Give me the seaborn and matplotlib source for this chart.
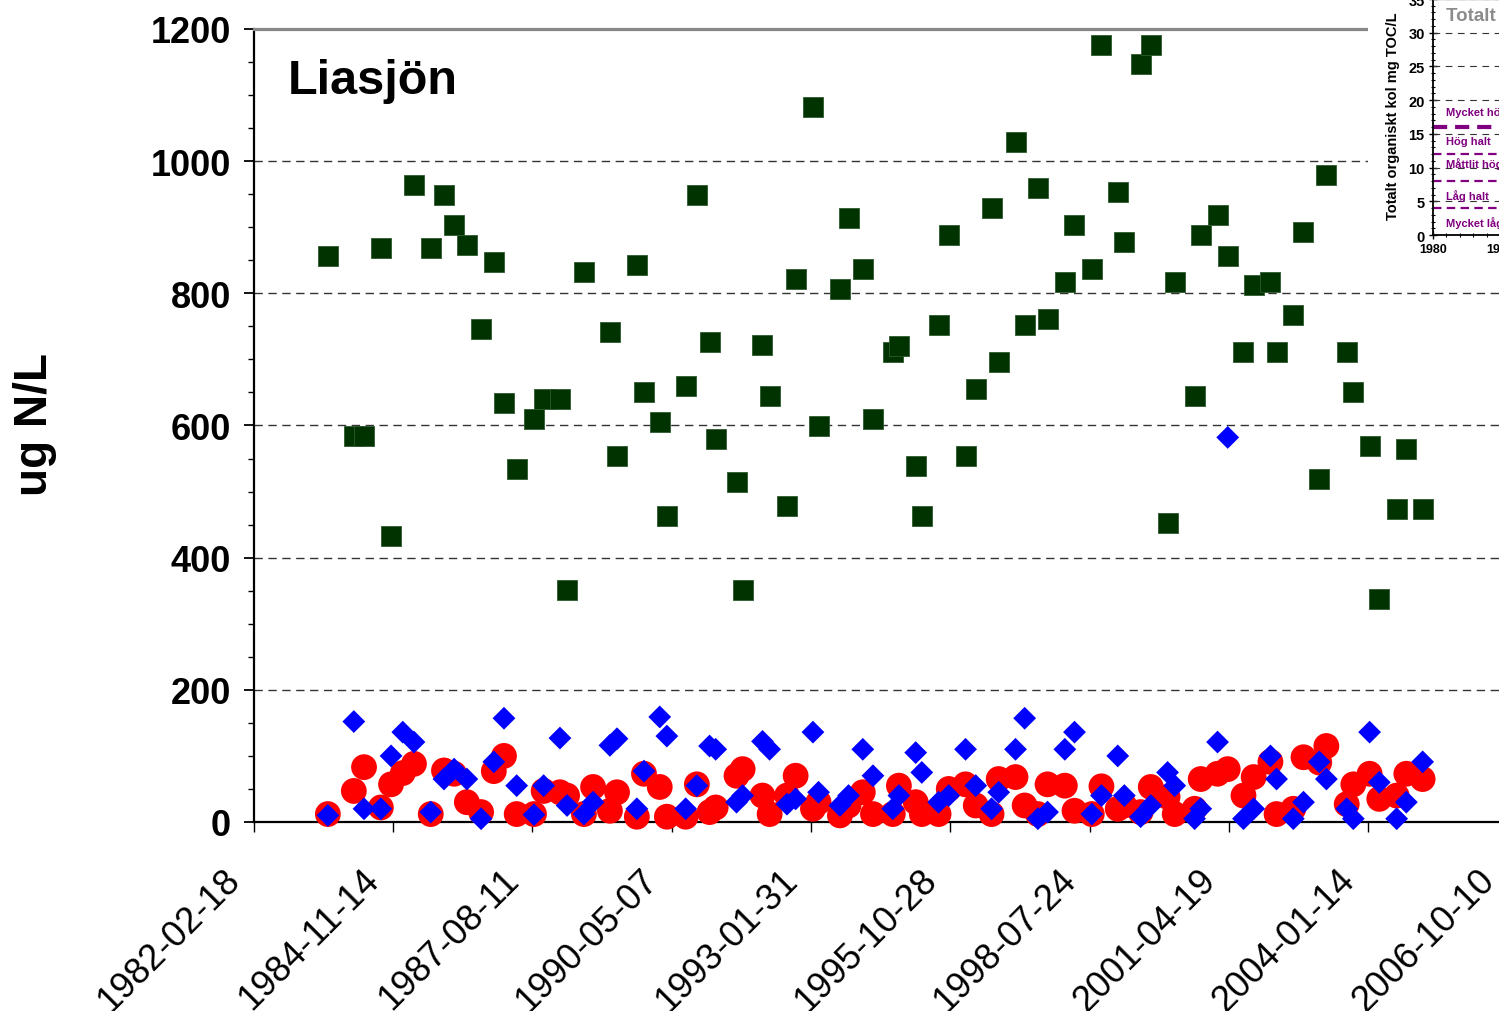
import numpy as np
import pandas as pd
import matplotlib
matplotlib.use("Agg")
import matplotlib.pyplot as plt
import matplotlib.transforms as mtransforms
from matplotlib.patches import Rectangle
from matplotlib.ticker import MultipleLocator
import seaborn as sns

# ---------------- data ----------------
# sampling dates as decimal years
sample_years = [
    1983.59, 1984.10, 1984.30, 1984.63, 1984.83, 1985.06, 1985.28, 1985.61, 1985.87, 1986.07,
    1986.32, 1986.60, 1986.85, 1987.05, 1987.30, 1987.64, 1987.83, 1988.15, 1988.29, 1988.62,
    1988.80, 1989.13, 1989.27, 1989.66, 1989.80, 1990.11, 1990.25, 1990.62, 1990.84, 1991.09,
    1991.21, 1991.62, 1991.74, 1992.13, 1992.27, 1992.61, 1992.78, 1993.12, 1993.23, 1993.65,
    1993.82, 1994.10, 1994.30, 1994.69, 1994.81, 1995.14, 1995.26, 1995.59, 1995.79, 1996.12,
    1996.32, 1996.63, 1996.77, 1997.10, 1997.28, 1997.54, 1997.73, 1998.07, 1998.26, 1998.60,
    1998.79, 1999.11, 1999.24, 1999.56, 1999.76, 2000.09, 2000.23, 2000.62, 2000.74, 2001.07,
    2001.27, 2001.58, 2001.78, 2002.11, 2002.23, 2002.56, 2002.76, 2003.07, 2003.21, 2003.61,
    2003.74, 2004.06, 2004.25, 2004.59, 2004.78, 2005.10,
]
nan = np.nan
# total nitrogen (dark green squares)
tot_n = [
    857, 584, 584, 868, 433, nan, 964, 868, 949, 903,
    873, 746, 847, 634, 534, 610, 640, 640, 351, 832,
    nan, 741, 554, 843, 651, 605, 463, 660, 949, 726,
    580, 514, 351, 722, 645, 478, 822, 1082, 599, 806,
    914, 837, 610, 711, 720, 539, 463, 752, 888, 554,
    655, 929, 696, 1029, 752, 959, 761, 817, 903, 837,
    1176, 953, 878, 1147, 1176, 452, 817, 645, 888, 918,
    857, 711, 812, 817, 711, 767, 893, 519, 979, 711,
    651, 569, 337, 474, 564, 474,
]
# nitrate nitrogen (red circles)
no3_n = [
    12, 47, 83, 22, 57, 74, 88, 12, 78, 73,
    30, 15, 77, 100, 12, 12, 47, 45, 40, 12,
    53, 17, 45, 8, 73, 53, 8, 8, 57, 15,
    22, 70, 80, 40, 12, 40, 70, 20, 30, 10,
    25, 45, 12, 12, 55, 30, 12, 12, 50, 57,
    25, 12, 65, 68, 25, 12, 57, 55, 17, 12,
    54, 20, 25, 15, 53, 38, 12, 20, 65, 73,
    80, 40, 68, 91, 12, 20, 98, 90, 115, 27,
    57, 73, 35, 40, 73, 65,
]
# ammonium nitrogen (blue diamonds)
nh4_n = [
    10, 152, 20, 20, 100, 136, 121, 15, 65, 80,
    65, 5, 91, 157, 55, 11, 55, 127, 25, 12,
    30, 116, 126, 20, 77, 159, 130, 20, 55, 115,
    110, 30, 40, 122, 110, 27, 35, 136, 45, 25,
    40, 110, 70, 20, 40, 105, 75, 30, 40, 110,
    55, 20, 45, 110, 157, 5, 15, 110, 136, 12,
    40, 100, 40, 8, 25, 75, 55, 5, 20, 121,
    582, 5, 20, 100, 65, 5, 30, 91, 65, 20,
    5, 136, 60, 5, 30, 91,
]

x_tick_labels = ["1982-02-18", "1984-11-14", "1987-08-11", "1990-05-07", "1993-01-31",
                 "1995-10-28", "1998-07-24", "2001-04-19", "2004-01-14", "2006-10-10"]
y_ticks = [0, 200, 400, 600, 800, 1000, 1200]

# inset (TOC classification chart)
inset_y_ticks = [0, 5, 10, 15, 20, 25, 30, 35]
inset_x_ticks = [1980, 1985, 1990, 1995, 2000, 2005, 2010]
class_limits = [4, 8, 12, 16]
class_labels = ["Mycket låg halt", "Låg halt", "Måttlit hög halt", "Hög halt", "Mycket hög halt"]
class_label_y = [1.9, 5.9, 10.6, 13.9, 18.3]

title = "Liasjön"
y_label = "ug N/L"
inset_y_label = "Totalt organiskt kol mg TOC/L"
inset_title = "Totalt organiskt kol"


def dec_year_to_ts(y):
    yr = int(np.floor(y))
    start = pd.Timestamp(year=yr, month=1, day=1)
    end = pd.Timestamp(year=yr + 1, month=1, day=1)
    return start + (end - start) * (y - yr)


sns.set_theme(style="white")
plt.rcParams["font.family"] = ["Liberation Sans", "DejaVu Sans"]
plt.rcParams["text.color"] = "black"
plt.rcParams["xtick.color"] = "black"
plt.rcParams["ytick.color"] = "black"

df = pd.DataFrame({
    "date": [dec_year_to_ts(v) for v in sample_years],
    "tot_n": tot_n,
    "no3_n": no3_n,
    "nh4_n": nh4_n,
})

W, H = 1499, 1012
fig = plt.figure(figsize=(W / 100, H / 100), dpi=100)
fig.patch.set_facecolor("white")

ax = fig.add_axes([253.7 / W, (H - 823) / H, 1254 / W, 793 / H])
ax.set_zorder(0)
ax.set_facecolor("white")

# dashed horizontal grid lines
for yv in y_ticks[1:-1]:
    ax.axhline(yv, color="#333333", lw=1.0, ls=(0, (6, 4)), zorder=0.5)

sns.scatterplot(data=df, x="date", y="tot_n", marker="s", s=205, color="#003300",
                edgecolor="#2f5a2f", linewidth=0.6, ax=ax, legend=False, clip_on=False, zorder=3)
sns.scatterplot(data=df, x="date", y="no3_n", marker="o", s=345, color="#ff0000",
                edgecolor="none", linewidth=0, ax=ax, legend=False, clip_on=False, zorder=4)
sns.scatterplot(data=df, x="date", y="nh4_n", marker="D", s=135, color="#0000ff",
                edgecolor="none", linewidth=0, ax=ax, legend=False, clip_on=False, zorder=5)

tick_dates = [pd.Timestamp(t) for t in x_tick_labels]
ax.set_xlim(tick_dates[0], tick_dates[-1])
ax.set_ylim(y_ticks[0], y_ticks[-1])
ax.set_xlabel("")
ax.set_ylabel("")

ax.set_yticks(y_ticks)
ax.set_yticklabels([str(v) for v in y_ticks], fontsize=26, fontweight="bold", color="black")
ax.yaxis.set_minor_locator(MultipleLocator(50))
ax.set_xticks(tick_dates)
ax.set_xticklabels(x_tick_labels, fontsize=26, rotation=45, ha="right", va="center",
                   rotation_mode="anchor", color="black")

ax.tick_params(axis="y", which="major", direction="out", length=7.5, width=1.3,
               color="black", pad=9, left=True, labelcolor="black")
ax.tick_params(axis="y", which="minor", direction="out", length=4, width=1.0,
               color="black", left=True)
ax.tick_params(axis="x", which="major", direction="out", length=7.5, width=1.0,
               color="black", pad=30, bottom=True, labelcolor="black")

offset = mtransforms.ScaledTranslation(-19 / 100, 0, fig.dpi_scale_trans)
for lab in ax.get_xticklabels():
    lab.set_transform(lab.get_transform() + offset)

for side in ["left", "bottom"]:
    ax.spines[side].set_color("black")
    ax.spines[side].set_linewidth(1.6)
ax.spines["top"].set_color("#888888")
ax.spines["top"].set_linewidth(2.3)
ax.spines["right"].set_visible(False)

ax.text(0.027, 0.963, title, transform=ax.transAxes, fontsize=35, fontweight="bold",
        ha="left", va="top", color="black")

fig.text(35 / W, 1 - 425 / H, y_label, rotation=90, fontsize=33, fontweight="bold",
         ha="center", va="center", color="black")

# ---------------- inset chart (partially outside the figure) ----------------
cover = Rectangle((1368 / W, 1 - 275 / H), (W - 1368) / W + 0.01, 275 / H + 0.01,
                  transform=fig.transFigure, facecolor="white", edgecolor="none", zorder=1)
fig.add_artist(cover)

axi = fig.add_axes([1433 / W, 1 - 236 / H, 402 / W, 236 / H])
axi.set_zorder(2)
axi.set_facecolor("white")
axi.set_xlim(inset_x_ticks[0], inset_x_ticks[-1])
axi.set_ylim(inset_y_ticks[0], inset_y_ticks[-1])

for yv in inset_y_ticks[1:]:
    axi.axhline(yv, color="#333333", lw=0.8, ls=(0, (6, 5)), zorder=1)

for lim in class_limits:
    if lim == class_limits[-1]:
        axi.axhline(lim, color="#800080", lw=3.0, ls=(0, (3.4, 1.9)), zorder=2)
    else:
        axi.axhline(lim, color="#800080", lw=1.6, ls=(0, (3.8, 2.4)), zorder=2)

for lab, yv in zip(class_labels, class_label_y):
    axi.text(1981.0, yv, lab, color="#800080", fontsize=8, fontweight="bold",
             ha="left", va="center", zorder=3)

axi.text(1981.0, 32.6, inset_title, color="#8c8c8c", fontsize=13.5, fontweight="bold",
         ha="left", va="center", zorder=3)

axi.set_yticks(inset_y_ticks)
axi.set_yticklabels([str(v) for v in inset_y_ticks], fontsize=10.5, fontweight="bold",
                    color="black")
axi.yaxis.set_minor_locator(MultipleLocator(1))
axi.set_xticks(inset_x_ticks)
axi.set_xticklabels([str(v) for v in inset_x_ticks], fontsize=9, fontweight="bold",
                    color="black")
axi.xaxis.set_minor_locator(MultipleLocator(1))
axi.tick_params(axis="both", which="major", direction="inout", length=6, width=1.0,
                color="black", pad=3, left=True, bottom=True, labelcolor="black")
axi.tick_params(axis="both", which="minor", direction="inout", length=3, width=0.8,
                color="black", left=True, bottom=True)
for side in ["left", "bottom"]:
    axi.spines[side].set_color("black")
    axi.spines[side].set_linewidth(1.3)
axi.spines["top"].set_color("#999999")
axi.spines["top"].set_linewidth(1.0)
axi.spines["right"].set_visible(False)

fig.text(1393 / W, 1 - 116 / H, inset_y_label, rotation=90, fontsize=10.5,
         fontweight="bold", ha="center", va="center", color="black", zorder=5)

fig.savefig("out.png", dpi=100, facecolor="white")
